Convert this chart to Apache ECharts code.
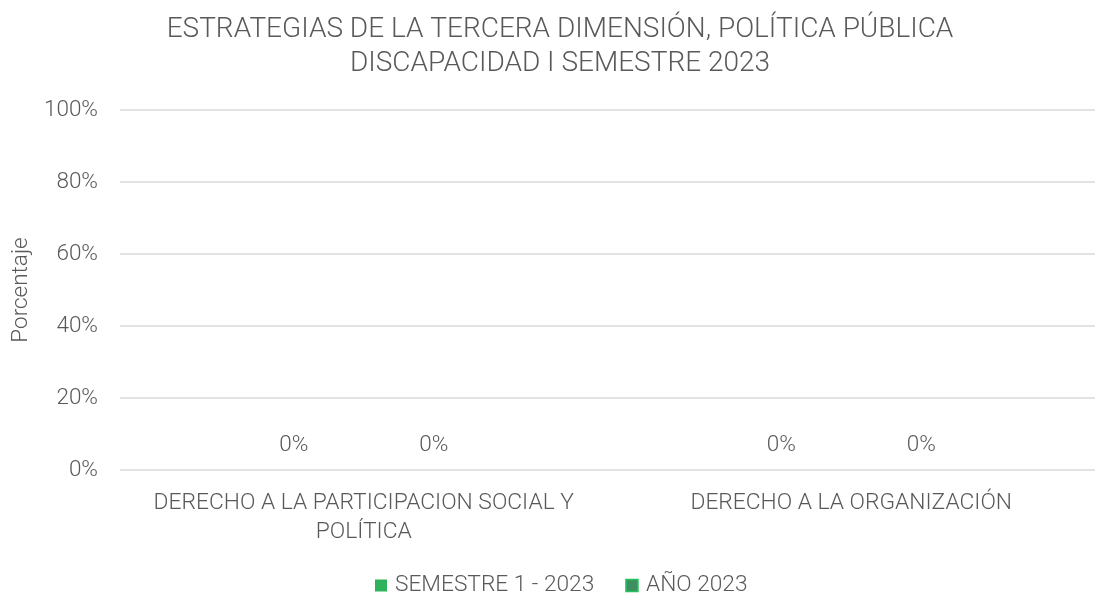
<!DOCTYPE html>
<html><head><meta charset="utf-8">
<script src="https://cdn.jsdelivr.net/npm/echarts@6/dist/echarts.min.js"></script>
<style>html,body{margin:0;padding:0;background:#fff}#c{width:1099px;height:594px}</style>
</head><body><div id="c"></div>
<script>
const categories = ["DERECHO A LA PARTICIPACION SOCIAL Y\nPOLÍTICA", "DERECHO A LA ORGANIZACIÓN"];
const seriesNames = ["SEMESTRE 1 - 2023", "AÑO 2023"];
const semestre = [0, 0];
const anio = [0, 0];
const yTicks = [0, 20, 40, 60, 80, 100];

const FONT = "Roboto";
const W = 300;
const TXT = "#595959";
const chart = echarts.init(document.getElementById('c'));
chart.setOption({
  backgroundColor: '#fff',
  animation: false,
  title: {
    text: "ESTRATEGIAS DE LA TERCERA DIMENSIÓN, POLÍTICA PÚBLICA\nDISCAPACIDAD I SEMESTRE 2023",
    left: 555, textAlign: 'center', top: 8,
    textStyle: {fontFamily: FONT, fontWeight: W, fontSize: 28, color: TXT, lineHeight: 34}
  },
  legend: {
    top: 569, left: 370, itemWidth: 12, itemHeight: 12, itemGap: 31,
    textStyle: {fontFamily: FONT, fontWeight: W, fontSize: 22.7, color: TXT, padding: [0, 0, 0, 3]},
    data: [
      {name: seriesNames[0], icon: 'rect'},
      {name: seriesNames[1], icon: 'rect', itemStyle: {color: '#3d8f5f', borderColor: '#22c35e', borderWidth: 1.5}}
    ]
  },
  grid: {left: 120, right: 4, top: 110, bottom: 124, outerBoundsMode: 'none', containLabel: false},
  xAxis: {
    type: 'category', data: categories,
    axisLine: {show: false}, axisTick: {show: false},
    axisLabel: {fontFamily: FONT, fontWeight: W, fontSize: 22.8, color: TXT, margin: 19, lineHeight: 29, interval: 0}
  },
  yAxis: {
    type: 'value', min: 0, max: 100, interval: 20,
    name: 'Porcentaje', nameLocation: 'middle', nameGap: 86, nameRotate: 90,
    nameTextStyle: {fontFamily: FONT, fontWeight: W, fontSize: 22.5, color: TXT},
    axisLine: {show: false}, axisTick: {show: false},
    axisLabel: {formatter: v => yTicks.includes(v) ? v + '%' : '', fontFamily: FONT, fontWeight: W, fontSize: 22.5, color: TXT, margin: 22},
    splitLine: {lineStyle: {color: '#d9d9d9', width: 1.5}}
  },
  series: [
    {name: seriesNames[0], type: 'bar', data: semestre, barWidth: 100, barGap: '40%',
     itemStyle: {color: '#2eb25a'},
     label: {show: true, position: 'top', distance: 13, formatter: p => p.value + '%', fontFamily: FONT, fontWeight: W, fontSize: 22.5, color: TXT}},
    {name: seriesNames[1], type: 'bar', data: anio, barWidth: 100,
     itemStyle: {color: '#3d8f5f'},
     label: {show: true, position: 'top', distance: 13, formatter: p => p.value + '%', fontFamily: FONT, fontWeight: W, fontSize: 22.5, color: TXT}}
  ]
});
</script></body></html>
